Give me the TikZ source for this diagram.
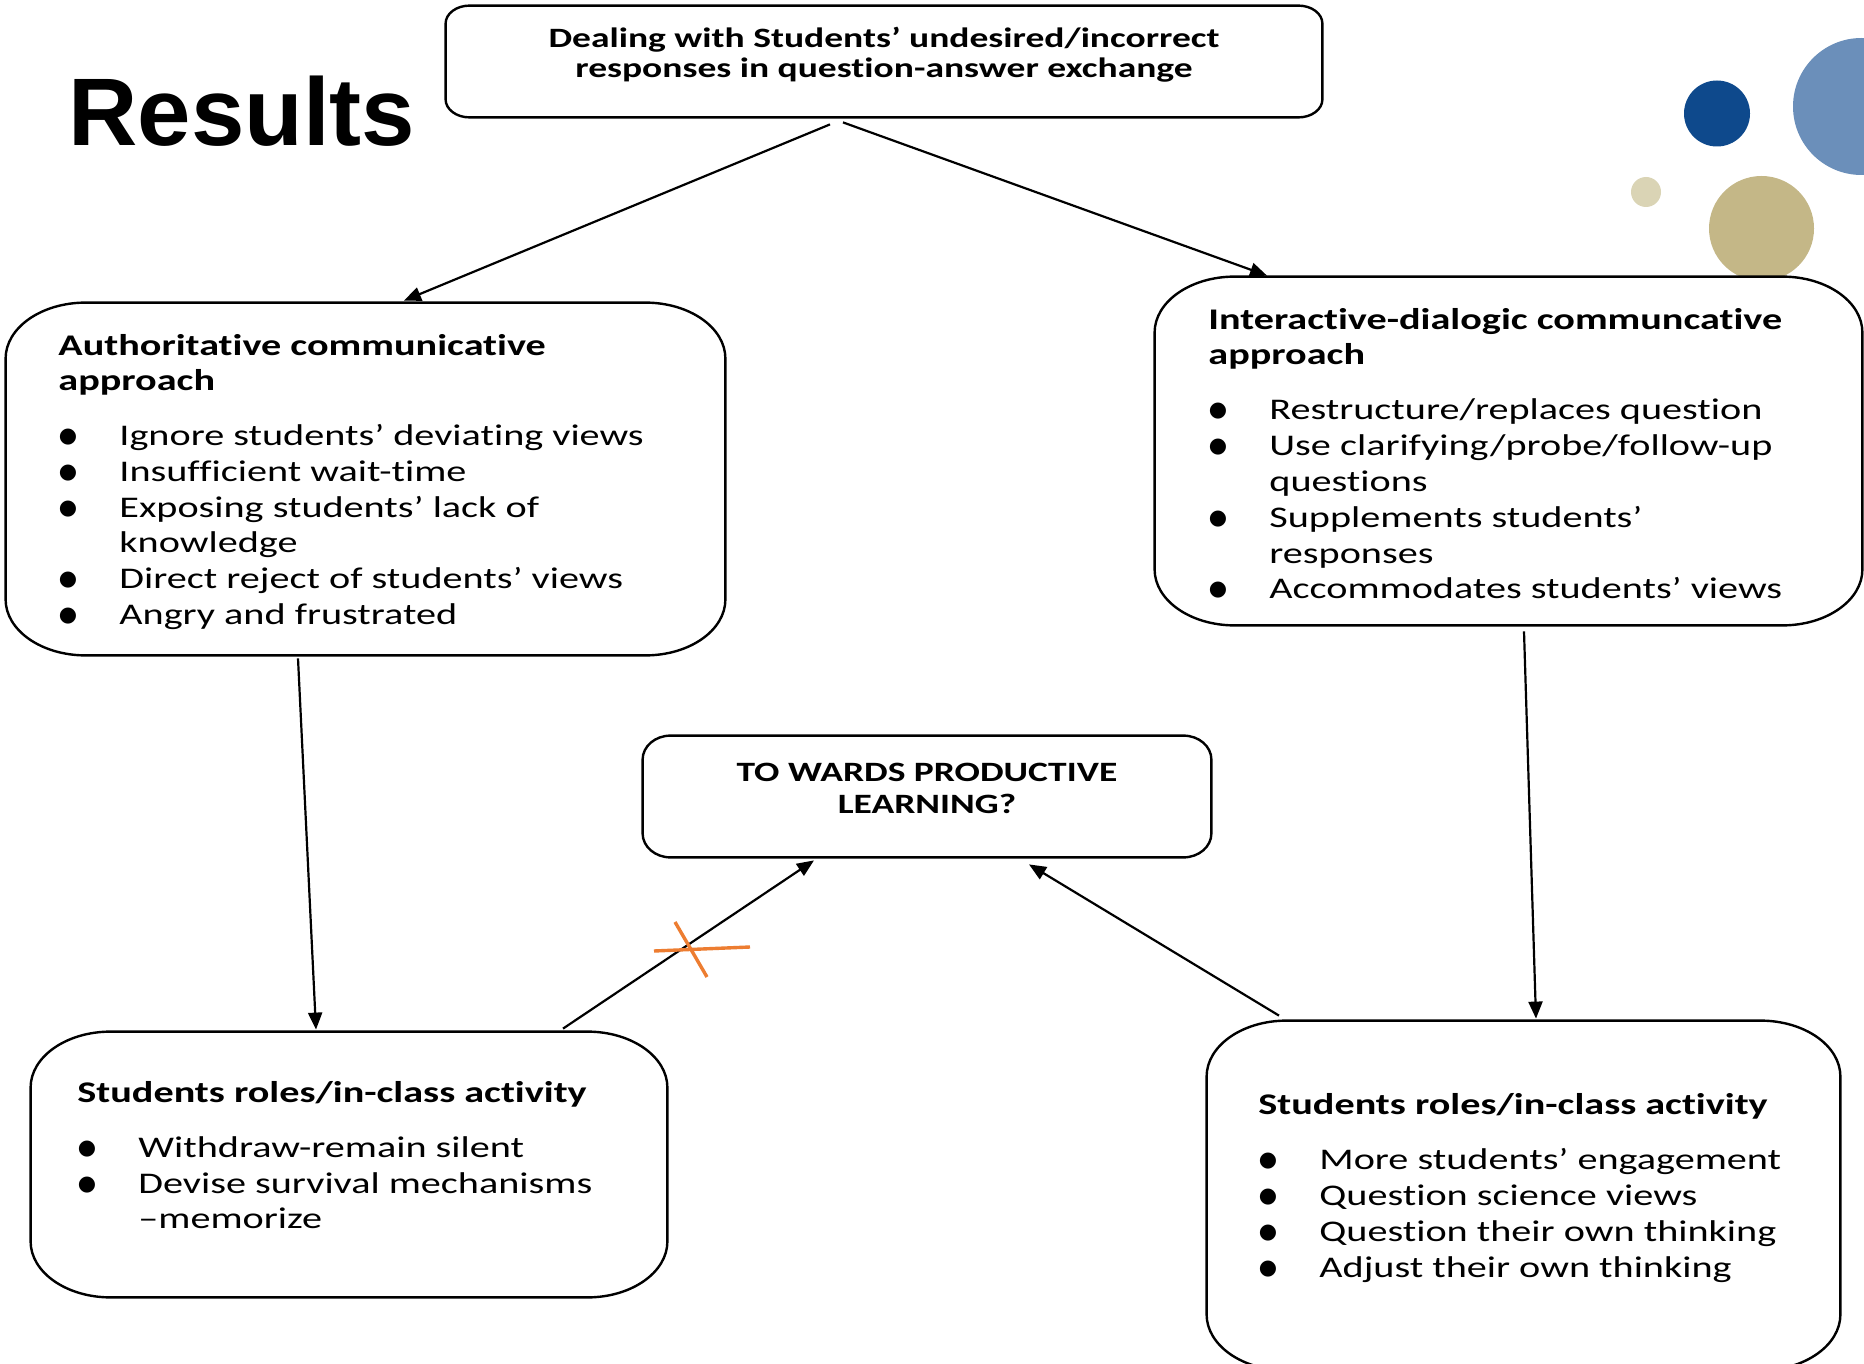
\documentclass[tikz,border=0pt]{standalone}
\usepackage{fontspec}
\setmainfont{Carlito}[FakeStretch=1.34,Ligatures={NoCommon}]
\newfontfamily\titlefont{Liberation Sans}
\newfontfamily\bulfont{DejaVu Sans}
\usetikzlibrary{arrows.meta,calc,fit}
\definecolor{dblue}{RGB}{14,73,140}
\definecolor{lblue}{RGB}{107,143,186}
\definecolor{tan}{RGB}{196,183,135}
\definecolor{beige}{RGB}{218,212,181}
\definecolor{xorange}{RGB}{237,125,49}
\tikzset{
  boxline/.style={draw=black, line width=1.2pt, fill=white},
  conn/.style={line width=1.1pt, -{Triangle[length=8.5pt,width=7pt]}},
  txt/.style={inner sep=0pt, anchor=base west, font=\fontsize{15}{18}\selectfont},
  hd/.style={inner sep=0pt, anchor=base west, font=\fontsize{15}{18}\selectfont\bfseries},
  ctr/.style={inner sep=0pt, anchor=base, font=\fontsize{14}{17}\selectfont\bfseries},
  cross/.style={draw=xorange, line width=1.7pt},
}
\newcommand\bul{\makebox[30.5pt][l]{\hspace{0.2pt}\raisebox{1.3pt}{\bulfont\fontsize{10.5}{12}\selectfont ●}}}
% name, x1, y1, x2, y2, rx, ry
\newcommand\rbox[7]{%
  \node[fit={(#2,#3) (#4,#5)}, inner sep=0pt] (#1) {};
  \draw[boxline] ([xshift=#6]#1.north west) -- ([xshift=-#6]#1.north east)
     arc[start angle=90,end angle=0,x radius=#6,y radius=#7]
     -- ([yshift=#7]#1.south east)
     arc[start angle=0,end angle=-90,x radius=#6,y radius=#7]
     -- ([xshift=#6]#1.south west)
     arc[start angle=270,end angle=180,x radius=#6,y radius=#7]
     -- ([yshift=-#7]#1.north west)
     arc[start angle=180,end angle=90,x radius=#6,y radius=#7] -- cycle;
}
\begin{document}
\begin{tikzpicture}[x=0.5pt,y=-0.5pt]
\useasboundingbox (0,0) rectangle (1864,1364);
\fill[white] (0,0) rectangle (1864,1364);
% decorative circles
\fill[lblue] (1861.5,106.5) circle[radius=68.5];
\fill[dblue] (1717,113.5) circle[radius=33];
\fill[beige] (1646,192) circle[radius=15];
\fill[tan] (1761.5,228.5) circle[radius=52.5];
% title
\node[inner sep=0pt, anchor=base west, font=\titlefont\bfseries\fontsize{48}{56}\selectfont] (title) at (68,146) {Results};
% boxes
\rbox{top}{446}{6}{1322}{117}{12pt}{9pt}
\rbox{auth}{6}{303}{725}{655}{40pt}{28pt}
\rbox{inter}{1155}{277}{1862}{625}{40pt}{28pt}
\rbox{mid}{643}{736}{1211}{857}{14pt}{12pt}
\rbox{stuL}{31}{1032}{667}{1297}{40pt}{28pt}
\rbox{stuR}{1207}{1021}{1840}{1370}{40pt}{28pt}
% top text
\node[ctr] (t1) at (884,47.5) {Dealing with Students’ undesired/incorrect};
\node[ctr] (t2) at (884,78) {responses in question-answer exchange};
% authoritative
\node[hd] (a1) at (58,356) {Authoritative communicative};
\node[hd] (a2) at (58,390.5) {approach};
\node[txt] (a3) at (58,445) {\bul Ignore students’ deviating views};
\node[txt] (a4) at (58,481) {\bul Insufficient wait-time};
\node[txt] (a5) at (58,517) {\bul Exposing students’ lack of};
\node[txt] (a6) at (58,552) {\hspace{30.5pt}knowledge};
\node[txt] (a7) at (58,588) {\bul Direct reject of students’ views};
\node[txt] (a8) at (58,624) {\bul Angry and frustrated};
% interactive
\node[hd] (i1) at (1208,329.5) {Interactive-dialogic communcative};
\node[hd] (i2) at (1208,364.5) {approach};
\node[txt] (i3) at (1208,419) {\bul Restructure/replaces question};
\node[txt] (i4) at (1208,455) {\bul Use clarifying/probe/follow-up};
\node[txt] (i5) at (1208,491) {\hspace{30.5pt}questions};
\node[txt] (i6) at (1208,527) {\bul Supplements students’};
\node[txt] (i7) at (1208,563) {\hspace{30.5pt}responses};
\node[txt] (i8) at (1208,598) {\bul Accommodates students’ views};
% middle
\node[ctr] (m1) at (927,781) {TO WARDS PRODUCTIVE};
\node[ctr] (m2) at (927,813) {LEARNING?};
% students left
\node[hd] (l1) at (77,1102) {Students roles/in-class activity};
\node[txt] (l2) at (77,1157) {\bul Withdraw-remain silent};
\node[txt] (l3) at (77,1193) {\bul Devise survival mechanisms};
\node[txt] (l4) at (77,1228) {\hspace{30.5pt}–memorize};
% students right
\node[hd] (r1) at (1258,1114) {Students roles/in-class activity};
\node[txt] (r2) at (1258,1169) {\bul More students’ engagement};
\node[txt] (r3) at (1258,1205) {\bul Question science views};
\node[txt] (r4) at (1258,1241) {\bul Question their own thinking};
\node[txt] (r5) at (1258,1277) {\bul Adjust their own thinking};
% connectors
\draw[conn] ($(top.south)+(-54,7)$) -- ($(auth.north)+(38.5,-2)$);
\draw[conn] ($(top.south)+(-41,5)$) -- ($(inter.north)+(-241.5,-1)$);
\draw[conn] ($(auth.south)+(-67.5,3)$) -- ($(stuL.north)+(-33,-2)$);
\draw[conn] ($(inter.south)+(15.5,6)$) -- ($(stuR.north)+(12.5,-2)$);
\draw[conn] ($(stuL.north)+(214,-3)$) -- ($(mid.south)+(-113,3)$);
\draw[conn] ($(stuR.north)+(-244.5,-5)$) -- ($(mid.south)+(102,7)$);
% orange cross
\draw[cross] (654,951) -- (750,947);
\draw[cross] (675,922) -- (707,977);
\end{tikzpicture}
\end{document}
